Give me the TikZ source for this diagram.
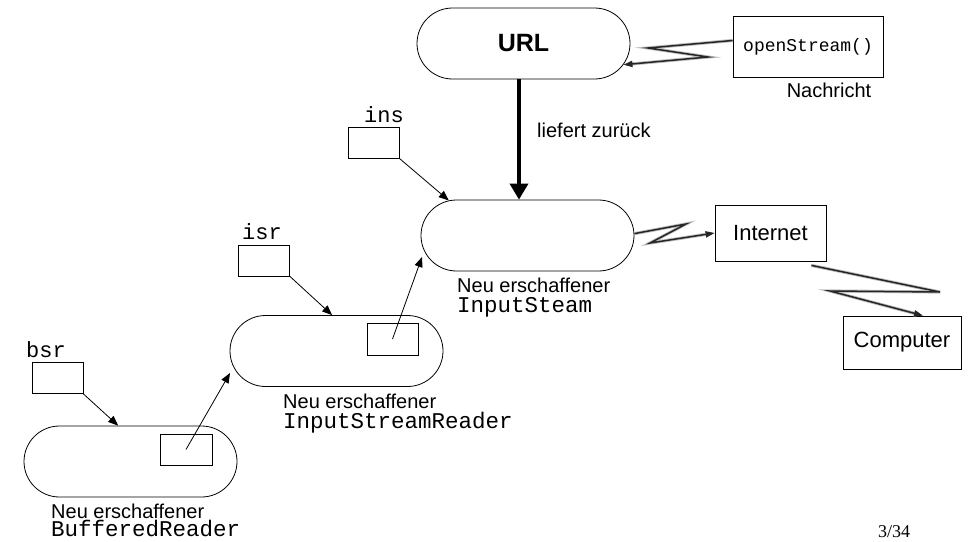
\documentclass[tikz,border=0pt]{standalone}
\usepackage{fontspec}
\setmainfont{Liberation Sans}
\newfontfamily\monofont{Liberation Mono}
\newfontfamily\pagefont{Liberation Serif}
\usetikzlibrary{shapes.misc,arrows.meta}

\begin{document}
\begin{tikzpicture}[x=1pt,y=-1pt,
  stadium/.style={draw, line width=0.8pt, rounded rectangle, minimum width=213pt,
    minimum height=71pt, inner sep=0pt},
  refbox/.style={draw, line width=0.8pt, inner sep=0pt},
  varbox/.style={refbox, minimum width=51pt, minimum height=31pt},
  caption/.style={inner sep=0pt, font=\fontsize{20}{24}\selectfont},
  codecap/.style={inner sep=0pt, font=\monofont\fontsize{22.5}{26}\selectfont},
  varname/.style={inner sep=0pt, anchor=base west, font=\monofont\fontsize{22}{26}\selectfont},
  ptr/.style={line width=0.8pt, -{Triangle[length=10pt,width=8pt]}},
  ret/.style={line width=3.5pt, -{Triangle[length=16pt,width=18pt]}},
  zig/.style={line width=1.5pt, black!85, line join=miter,
    preaction={draw, black!25, line width=3.2pt},
    -{Triangle[length=9pt,width=6pt]}}
]
\useasboundingbox (0,0) rectangle (973,541);

% URL object and the message sent to it
\node[stadium, font=\fontsize{25}{30}\selectfont\bfseries] (url) at (523.5,43.5) {URL};
\node[refbox, minimum width=150pt, minimum height=61pt,
  font=\monofont\fontsize{18}{22}\selectfont] (msg) at (808,46.5) {openStream()};
\node[caption, anchor=base] (msgcap) at (829,97) {Nachricht};

% the new InputStream
\node[stadium] (isObj) at (527.5,235.5) {};
\node[caption, anchor=base west] (isCap1) at (457,292) {Neu erschaffener};
\node[codecap, anchor=base west] (isCap2) at (457,312) {InputSteam};
\node[varbox] (insVar) at (373.5,142.5) {};
\node[varname] (insName) at (364,122) {ins};

% network side
\node[refbox, minimum width=111pt, minimum height=56pt,
  font=\fontsize{22}{26}\selectfont] (net) at (770.5,233) {Internet};
\node[refbox, minimum width=118pt, minimum height=53pt,
  font=\fontsize{22}{26}\selectfont] (comp) at (902,342.5) {Computer};

% the new InputStreamReader
\node[stadium] (isrObj) at (336.5,351) {};
\node[refbox, minimum width=51pt, minimum height=32pt] (isrSlot) at (392.5,339) {};
\node[caption, anchor=base west] (isrCap1) at (283,408) {Neu erschaffener};
\node[codecap, anchor=base west] (isrCap2) at (283,428) {InputStreamReader};
\node[varbox] (isrVar) at (264,260.5) {};
\node[varname] (isrName) at (242,239) {isr};

% the new BufferedReader
\node[stadium] (brObj) at (130.5,461.5) {};
\node[refbox, minimum width=52pt, minimum height=31pt] (brSlot) at (186,449.5) {};
\node[caption, anchor=base west] (brCap1) at (51,518) {Neu erschaffener};
\node[codecap, anchor=base west] (brCap2) at (51,536.5) {BufferedReader};
\node[varbox] (bsrVar) at (57.5,378) {};
\node[varname] (bsrName) at (26,357) {bsr};

% page number
\node[inner sep=0pt, anchor=base, font=\pagefont\fontsize{18}{22}\selectfont] (page) at (894,537) {3/34};

% returned stream
\coordinate (retX) at (519,0);
\draw[ret] (url.south -| retX) -- (isObj.north -| retX);
\node[caption, anchor=base west] (retCap) at (537,137) {liefert zurück};

% references
\coordinate (isTip) at (422,257);
\coordinate (brTip) at (230,373);
\draw[ptr] (insVar.south east) -- (isObj.156);
\draw[ptr] (isrVar.south east) -- (isrObj.97);
\draw[ptr] (bsrVar.south east) -- (brObj.109);
\draw[ptr] (isrSlot.center) -- (isTip);
\draw[ptr] (brSlot.center) -- (brTip);

% message and network links
\draw[zig] ([yshift=6pt]msg.west) -- (648,48) -- (708,57) -- (url.-12.2);
\draw[zig] (isObj.1.3) -- (686,224) -- (650,243) -- (net.west);
\draw[zig] ([xshift=-15pt,yshift=-4pt]net.south east) -- (940,292) -- (830,291)
  -- ([xshift=21pt]comp.north);
\end{tikzpicture}
\end{document}
